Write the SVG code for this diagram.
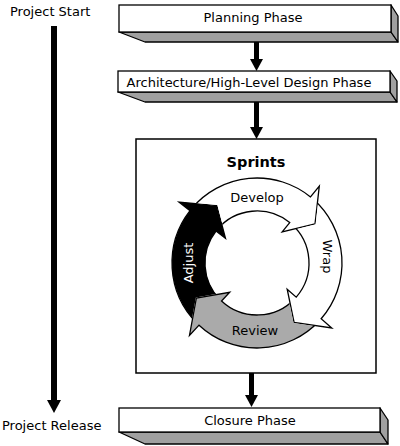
<svg xmlns="http://www.w3.org/2000/svg" width="400" height="446" viewBox="0 0 400 446">
<style>
text{font-family:"DejaVu Sans","Liberation Sans",sans-serif;font-size:13px;fill:#000}
.front{fill:#fff;stroke:#000;stroke-width:1.3}
.side{fill:#a0a0a0;stroke:#000;stroke-width:1.3;stroke-linejoin:round}
.conn{stroke:#000;stroke-width:5;fill:none}
.cyc{stroke:#000;stroke-width:1.3;stroke-linejoin:miter}
.mid{text-anchor:middle}
</style>
<defs>
<marker id="head" markerUnits="userSpaceOnUse" viewBox="0 0 12 13" refX="0" refY="6.5" markerWidth="12" markerHeight="13" orient="auto"><path d="M0,0 L12,6.5 L0,13 Z" fill="#000"/></marker>
<marker id="bighead" markerUnits="userSpaceOnUse" viewBox="0 0 13 14" refX="0" refY="7" markerWidth="13" markerHeight="14" orient="auto"><path d="M0,0 L13,7 L0,14 Z" fill="#000"/></marker>
<mask id="mAdj" maskUnits="userSpaceOnUse" x="0" y="0" width="400" height="446"><rect width="400" height="446" fill="#fff"/><polygon points="178.99,202.05 216.85,205.66 225.48,238.37" fill="#000" stroke="#000" stroke-width="1.2"/></mask>
<mask id="mDev" maskUnits="userSpaceOnUse" x="0" y="0" width="400" height="446"><rect width="400" height="446" fill="#fff"/><polygon points="319.30,186.07 315.03,223.86 282.17,231.92" fill="#000" stroke="#000" stroke-width="1.2"/></mask>
<mask id="mWrap" maskUnits="userSpaceOnUse" x="0" y="0" width="400" height="446"><rect width="400" height="446" fill="#fff"/><polygon points="331.72,327.95 294.09,322.36 287.19,289.24" fill="#000" stroke="#000" stroke-width="1.2"/></mask>
<mask id="mRev" maskUnits="userSpaceOnUse" x="0" y="0" width="400" height="446"><rect width="400" height="446" fill="#fff"/><polygon points="189.48,335.41 196.38,298.00 229.72,292.26" fill="#000" stroke="#000" stroke-width="1.2"/></mask>
</defs>

<g id="timeline">
<text x="10" y="15.5">Project Start</text>
<line x1="54" y1="26" x2="54" y2="400" stroke="#000" stroke-width="6" marker-end="url(#bighead)"/>
<text x="2" y="429.5">Project Release</text>
</g>

<g id="node-planning">
<polygon class="side" points="119,32 391,32 398,42 145,42"/>
<polygon class="side" points="391,5 398,16 398,42 391,32"/>
<rect class="front" x="119" y="5" width="272" height="27"/>
<text class="mid" x="253" y="22">Planning Phase</text>
</g>

<g id="node-architecture">
<polygon class="side" points="118,92 390,92 397,102 145,102"/>
<polygon class="side" points="390,71 397,81 397,102 390,92"/>
<rect class="front" x="118" y="71" width="272" height="21"/>
<text class="mid" x="249" y="87">Architecture/High-Level Design Phase</text>
</g>

<g id="node-sprints">
<rect x="136" y="139" width="240" height="234" fill="#fff" stroke="#000" stroke-width="1.5"/>
<text class="mid" x="256" y="166.5" style="font-weight:bold;font-size:14.5px">Sprints</text>
<g id="arrow-adjust">
<path class="cyc" fill="#000" mask="url(#mRev)" d="M 196.90 323.10 A 85 85 0 0 1 190.02 210.67 L 178.99 202.05 L 216.85 205.66 L 225.48 238.37 L 216.02 230.98 A 52 52 0 0 0 220.23 299.77 Z"/>
<text class="mid" transform="translate(193,263) rotate(-90)" style="fill:#fff">Adjust</text>
</g>
<g id="arrow-develop">
<path class="cyc" fill="#fff" mask="url(#mAdj)" d="M 191.89 208.36 A 85 85 0 0 1 310.49 196.95 L 319.30 186.07 L 315.03 223.86 L 282.17 231.92 L 289.72 222.59 A 52 52 0 0 0 217.17 229.57 Z"/>
<text class="mid" x="257" y="202">Develop</text>
</g>
<g id="arrow-wrap">
<path class="cyc" fill="#fff" mask="url(#mDev)" d="M 312.77 198.85 A 85 85 0 0 1 321.15 318.77 L 331.72 327.95 L 294.09 322.36 L 287.19 289.24 L 296.24 297.12 A 52 52 0 0 0 291.12 223.76 Z"/>
<text class="mid" transform="translate(322.5,256.5) rotate(90)">Wrap</text>
</g>
<g id="arrow-review">
<path class="cyc" fill="#aaaaaa" mask="url(#mWrap)" d="M 319.17 320.97 A 85 85 0 0 1 199.03 325.17 L 189.48 335.41 L 196.38 298.00 L 229.72 292.26 L 221.54 301.03 A 52 52 0 0 0 295.03 298.46 Z"/>
<text class="mid" x="255" y="335">Review</text>
</g>
</g>

<g id="node-closure">
<polygon class="side" points="119,432 380,432 388,444 145,444"/>
<polygon class="side" points="380,408 388,420 388,444 380,432"/>
<rect class="front" x="119" y="408" width="261" height="24"/>
<text class="mid" x="250" y="424.5">Closure Phase</text>
</g>

<g id="connectors">
<line class="conn" x1="256.5" y1="42" x2="256.5" y2="59" marker-end="url(#head)"/>
<line class="conn" x1="256.5" y1="102" x2="256.5" y2="127" marker-end="url(#head)"/>
<line class="conn" x1="251.5" y1="373" x2="251.5" y2="395" marker-end="url(#head)"/>
</g>
</svg>
